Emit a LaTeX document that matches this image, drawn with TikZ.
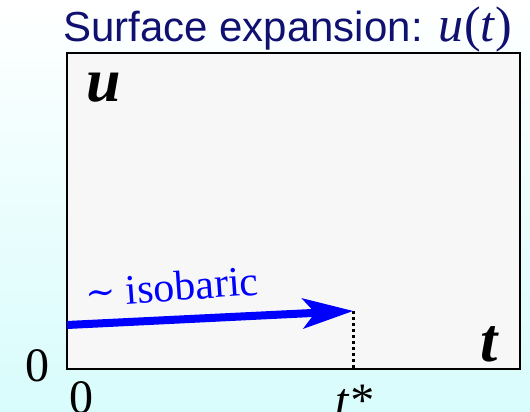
\documentclass[tikz,border=0pt]{standalone}
\usepackage{fontspec}
\setmainfont{Liberation Serif}
\newfontfamily\titlefont{Liberation Sans}
\newfontfamily\simfont{DejaVu Serif}
\usetikzlibrary{arrows.meta}
\definecolor{titleblue}{RGB}{16,16,112}
\definecolor{bgcyan}{RGB}{216,252,252}
\definecolor{boxgray}{RGB}{247,247,247}
\tikzset{
  plotbox/.style={draw=black, line width=1.6pt, fill=boxgray, inner sep=0pt,
    minimum width=453pt, minimum height=316pt},
  bigarrow/.style={draw=blue, line width=8pt,
    -{Stealth[length=51pt,width=31pt,inset=13pt,line width=0pt]}},
  droplinestyle/.style={draw=black, line width=3pt, dash pattern=on 3pt off 3pt},
  axislab/.style={font=\fontsize{62}{62}\selectfont\bfseries\itshape, inner sep=0pt},
  ticklab/.style={font=\fontsize{48}{48}\selectfont, inner sep=0pt},
}
\begin{document}
\begin{tikzpicture}[x=1pt,y=-1pt]
\useasboundingbox (0,0) rectangle (530,412);
\shade[top color=white, bottom color=bgcyan] (0,0) rectangle (530,412);
\node (title) [anchor=base west, inner sep=0pt, text=titleblue,
  font=\titlefont\fontsize{42}{42}\selectfont] at (63,42)
  {Surface expansion: {\rmfamily\fontsize{50}{50}\selectfont{\itshape u}\kern1pt({\itshape t}\kern1pt)}};
\node (box) [plotbox, anchor=south west] at (66,370) {};
\node (ulab) [axislab, anchor=base] at (104,101) {u};
\node (tlab) [axislab, anchor=base] at (489,361) {t};
\node (zeroy) [ticklab, anchor=base] at (37,381) {0};
\node (zerox) [ticklab, anchor=base] at (81,413) {0};
\node (tstar) [ticklab, anchor=base] at (354,416) {\itshape t*};
\coordinate (astart) at (67,325);
\coordinate (aend) at (353,311);
\draw[droplinestyle] (aend) -- (aend |- box.south);
\draw[bigarrow] (astart) -- (aend);
\node (iso) [anchor=base west, inner sep=0pt, text=blue, rotate=4,
  font=\fontsize{42}{42}\selectfont] at (86,307)
  {\raisebox{1pt}{\simfont\fontsize{36}{36}\selectfont ∼}\ isobaric};
\end{tikzpicture}
\end{document}
